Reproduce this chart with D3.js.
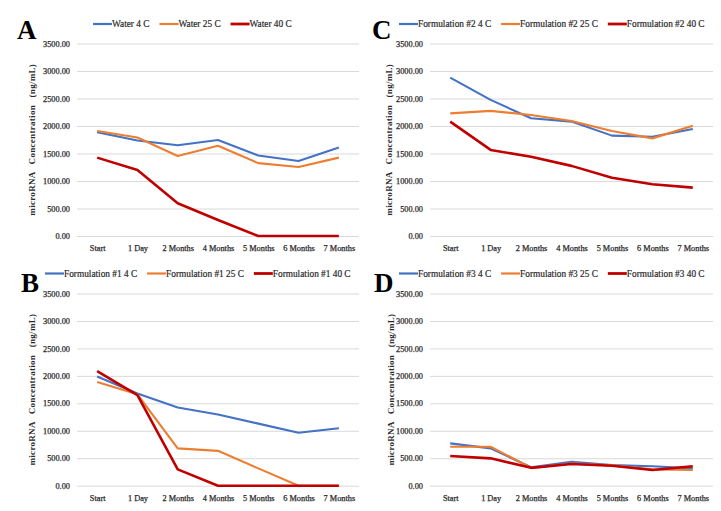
<!DOCTYPE html>
<html>
<head>
<meta charset="utf-8">
<script src="https://cdn.jsdelivr.net/npm/d3@7"></script>
<style>
    body { margin: 0; background: #fff; }
    svg { display: block; }
    text { font-family: "Liberation Serif", "Times New Roman", serif; }
</style>
</head>
<body>
<svg id="chart" width="721" height="511"></svg>
<script>
// Shared axes
const categories = ['Start', '1 Day', '2 Months', '4 Months', '5 Months', '6 Months', '7 Months'];
const yTicks = [0, 500, 1000, 1500, 2000, 2500, 3000, 3500];
const seriesColors = ['#4472C4', '#ED7D31', '#C00000'];

// Panel A - water
const waterLabels = ['Water 4 C', 'Water 25 C', 'Water 40 C'];
const water4 = [1885, 1735, 1650, 1745, 1465, 1365, 1610];
const water25 = [1910, 1790, 1455, 1640, 1325, 1255, 1425];
const water40 = [1425, 1200, 595, 290, 0, 0, 0];

// Panel B - formulation #1
const f1Labels = ['Formulation #1 4 C', 'Formulation #1 25 C', 'Formulation #1 40 C'];
const f1_4 = [1990, 1680, 1425, 1295, 1130, 965, 1045];
const f1_25 = [1890, 1665, 680, 635, 315, 0, 0];
const f1_40 = [2085, 1650, 298, 0, 0, 0, 0];

// Panel C - formulation #2
const f2Labels = ['Formulation #2 4 C', 'Formulation #2 25 C', 'Formulation #2 40 C'];
const f2_4 = [2880, 2475, 2140, 2080, 1825, 1805, 1945];
const f2_25 = [2230, 2275, 2200, 2090, 1910, 1775, 2005];
const f2_40 = [2080, 1565, 1440, 1275, 1060, 940, 880];

// Panel D - formulation #3
const f3Labels = ['Formulation #3 4 C', 'Formulation #3 25 C', 'Formulation #3 40 C'];
const f3_4 = [770, 680, 335, 435, 375, 355, 315];
const f3_25 = [710, 710, 325, 405, 370, 298, 285];
const f3_40 = [540, 498, 325, 395, 362, 285, 355];

const panels = [
    { letter: 'A', labels: waterLabels, series: [water4, water25, water40],
      x0: 77, x1: 359, y0: 43.5, y1: 236, legendX: 93, legendY: 24, letterX: 17, letterY: 39, titleX: 33 },
    { letter: 'B', labels: f1Labels, series: [f1_4, f1_25, f1_40],
      x0: 77, x1: 359, y0: 293.5, y1: 485.7, legendX: 45, legendY: 273.5, letterX: 21, letterY: 292, titleX: 33 },
    { letter: 'C', labels: f2Labels, series: [f2_4, f2_25, f2_40],
      x0: 430, x1: 713, y0: 43.5, y1: 236, legendX: 399, legendY: 24, letterX: 372, letterY: 39, titleX: 390 },
    { letter: 'D', labels: f3Labels, series: [f3_4, f3_25, f3_40],
      x0: 430, x1: 713, y0: 293.5, y1: 485.7, legendX: 399, legendY: 273.5, letterX: 374, letterY: 292, titleX: 392 }
];

const textColor = '#2a2a2a';
const svg = d3.select('#chart');

panels.forEach(p => {
    const g = svg.append('g');

    const x = d3.scalePoint().domain(categories).range([p.x0, p.x1]).padding(0.5);
    const y = d3.scaleLinear().domain([0, 3500]).range([p.y1, p.y0]);

    // gridlines + y tick labels
    const yAxis = d3.axisLeft(y)
        .tickValues(yTicks)
        .tickFormat(d3.format('.2f'))
        .tickSize(-(p.x1 - p.x0))
        .tickPadding(7);
    const ya = g.append('g').attr('transform', `translate(${p.x0},0)`).call(yAxis);
    ya.select('.domain').remove();
    ya.selectAll('line').attr('stroke', '#d9d9d9').attr('stroke-width', 1);
    ya.selectAll('text')
        .style('font-size', '8.3px')
        .style('font-family', '"Liberation Serif", serif')
        .attr('fill', textColor)
        .attr('stroke', textColor)
        .attr('stroke-width', 0.25);

    // category labels
    const xAxis = d3.axisBottom(x).tickSize(0).tickPadding(9);
    const xa = g.append('g').attr('transform', `translate(0,${p.y1})`).call(xAxis);
    xa.select('.domain').remove();
    xa.selectAll('text')
        .style('font-size', '8.3px')
        .style('font-family', '"Liberation Serif", serif')
        .attr('fill', textColor)
        .attr('stroke', textColor)
        .attr('stroke-width', 0.25);

    // y axis title
    g.append('text')
        .attr('transform', `translate(${p.titleX},${(p.y0 + p.y1) / 2}) rotate(-90)`)
        .attr('text-anchor', 'middle')
        .attr('dominant-baseline', 'middle')
        .style('font-size', '9px')
        .style('font-weight', 'bold')
        .style('letter-spacing', '0.3px')
        .style('word-spacing', '5px')
        .attr('fill', textColor)
        .text('microRNA Concentration (ng/mL)');

    // lines
    const line = d3.line()
        .x((d, i) => x(categories[i]))
        .y(d => y(d));

    p.series.forEach((s, i) => {
        g.append('path')
            .datum(s)
            .attr('d', line)
            .attr('fill', 'none')
            .attr('stroke', seriesColors[i])
            .attr('stroke-width', i === 2 ? 2.6 : 2.1)
            .attr('stroke-linejoin', 'round');
    });

    // legend
    let lx = p.legendX;
    p.labels.forEach((lab, i) => {
        g.append('line')
            .attr('x1', lx).attr('x2', lx + 19)
            .attr('y1', p.legendY).attr('y2', p.legendY)
            .attr('stroke', seriesColors[i])
            .attr('stroke-width', i === 2 ? 2.8 : 2.2);
        const t = g.append('text')
            .attr('x', lx + 19)
            .attr('y', p.legendY + 3.2)
            .style('font-size', '9.3px')
            .attr('fill', textColor)
            .attr('stroke', textColor)
            .attr('stroke-width', 0.2)
            .text(lab);
        lx += 19 + t.node().getComputedTextLength() + 10;
    });

    // panel letter
    g.append('text')
        .attr('x', p.letterX)
        .attr('y', p.letterY)
        .style('font-size', '27px')
        .style('font-weight', 'bold')
        .attr('fill', '#000')
        .text(p.letter);
});
</script>
</body>
</html>
